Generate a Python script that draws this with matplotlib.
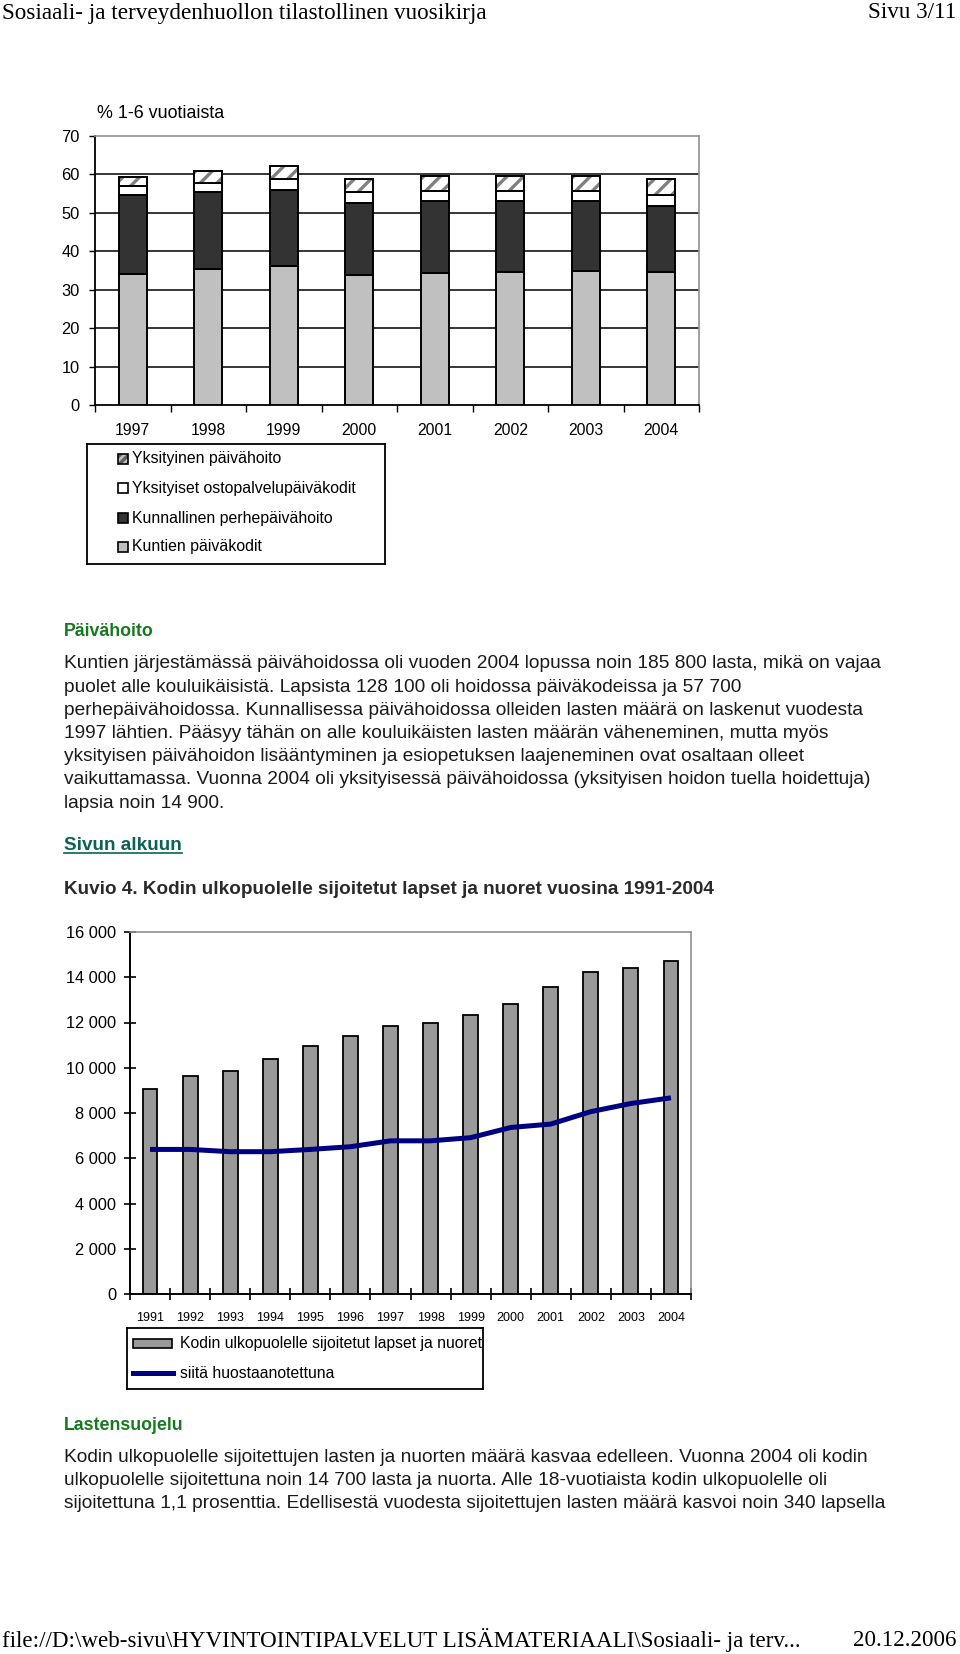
import matplotlib
matplotlib.use("Agg")
import matplotlib.pyplot as plt
import numpy as np
from matplotlib.patches import Rectangle
from matplotlib.lines import Line2D
from matplotlib.ticker import FuncFormatter

# -----------------------------
# DATA
# -----------------------------
years1 = ["1997", "1998", "1999", "2000", "2001", "2002", "2003", "2004"]
kuntien_paivakodit = [34.2, 35.3, 36.2, 33.7, 34.3, 34.6, 35.0, 34.6]
kunnallinen_perhe = [20.5, 20.2, 19.7, 18.8, 18.9, 18.4, 18.0, 17.3]
ostopalvelu = [2.3, 2.3, 2.8, 3.0, 2.5, 2.7, 2.7, 2.7]
yksityinen = [2.4, 3.2, 3.5, 3.3, 3.8, 3.8, 3.8, 4.2]

years2 = ["1991", "1992", "1993", "1994", "1995", "1996", "1997",
          "1998", "1999", "2000", "2001", "2002", "2003", "2004"]
sijoitetut = [9060, 9630, 9850, 10370, 10960, 11410, 11860,
              12000, 12310, 12830, 13560, 14210, 14400, 14740]
huostaan = [6390, 6390, 6290, 6290, 6390, 6510, 6770,
            6770, 6910, 7360, 7510, 8060, 8420, 8670]

legend1 = ["Yksityinen päivähoito", "Yksityiset ostopalvelupäiväkodit",
           "Kunnallinen perhepäivähoito", "Kuntien päiväkodit"]
legend2 = ["Kodin ulkopuolelle sijoitetut lapset ja nuoret", "siitä huostaanotettuna"]

body1 = [
    "Kuntien järjestämässä päivähoidossa oli vuoden 2004 lopussa noin 185 800 lasta, mikä on vajaa",
    "puolet alle kouluikäisistä. Lapsista 128 100 oli hoidossa päiväkodeissa ja 57 700",
    "perhepäivähoidossa. Kunnallisessa päivähoidossa olleiden lasten määrä on laskenut vuodesta",
    "1997 lähtien. Pääsyy tähän on alle kouluikäisten lasten määrän väheneminen, mutta myös",
    "yksityisen päivähoidon lisääntyminen ja esiopetuksen laajeneminen ovat osaltaan olleet",
    "vaikuttamassa. Vuonna 2004 oli yksityisessä päivähoidossa (yksityisen hoidon tuella hoidettuja)",
    "lapsia noin 14 900.",
]
body2 = [
    "Kodin ulkopuolelle sijoitettujen lasten ja nuorten määrä kasvaa edelleen. Vuonna 2004 oli kodin",
    "ulkopuolelle sijoitettuna noin 14 700 lasta ja nuorta. Alle 18-vuotiaista kodin ulkopuolelle oli",
    "sijoitettuna 1,1 prosenttia. Edellisestä vuodesta sijoitettujen lasten määrä kasvoi noin 340 lapsella",
]

# -----------------------------
# PAGE SETUP (pixel helpers)
# -----------------------------
W, H = 960, 1654
plt.rcParams["font.family"] = "Liberation Sans"
plt.rcParams["hatch.linewidth"] = 2.4
plt.rcParams["hatch.color"] = "#808080"

fig = plt.figure(figsize=(W / 100, H / 100), dpi=100)


def fx(x):
    return x / W


def fy(y):
    return 1 - y / H


def box(l, t, r, b):
    return [l / W, 1 - b / H, (r - l) / W, (b - t) / H]


serif = "Liberation Serif"
txt_col = "#1a1a1a"
green = "#16791e"
teal = "#0b6257"

# header / footer
fig.text(fx(2), fy(13), "Sosiaali- ja terveydenhuollon tilastollinen vuosikirja",
         family=serif, fontsize=16.7, va="center", ha="left")
fig.text(fx(956), fy(13), "Sivu 3/11", family=serif, fontsize=16.7, va="center", ha="right")
fig.text(fx(2), fy(1640),
         "file://D:\\web-sivu\\HYVINTOINTIPALVELUT LISÄMATERIAALI\\Sosiaali- ja terv...",
         family=serif, fontsize=16.6, va="center", ha="left")
fig.text(fx(956), fy(1640), "20.12.2006", family=serif, fontsize=16.6, va="center", ha="right")

# -----------------------------
# CHART 1: stacked bars
# -----------------------------
ax1 = fig.add_axes(box(95, 136, 699, 405))
x1 = np.arange(len(years1))
bw = 0.37
edge = dict(edgecolor="black", linewidth=1.4, zorder=3)

b0 = np.array(kuntien_paivakodit)
b1 = b0 + np.array(kunnallinen_perhe)
b2 = b1 + np.array(ostopalvelu)

ax1.bar(x1, kuntien_paivakodit, bw, color="#c0c0c0", **edge)
ax1.bar(x1, kunnallinen_perhe, bw, bottom=b0, color="#333333", **edge)
ax1.bar(x1, ostopalvelu, bw, bottom=b1, color="white", **edge)
ax1.bar(x1, yksityinen, bw, bottom=b2, color="white", edgecolor="#808080",
        hatch="//", linewidth=0, zorder=3)
ax1.bar(x1, yksityinen, bw, bottom=b2, color="none", **edge)

ax1.set_xlim(-0.5, len(years1) - 0.5)
ax1.set_ylim(0, 70)
ax1.set_yticks(range(0, 71, 10))
for v in range(10, 70, 10):
    ax1.axhline(v, color="black", linewidth=1.1, zorder=1)
ax1.set_xticks(x1)
ax1.set_xticklabels(years1)
ax1.set_xticks(np.arange(-0.5, len(years1)), minor=True)
ax1.tick_params(axis="x", which="major", length=0, pad=13, labelsize=11.3)
ax1.tick_params(axis="x", which="minor", length=5, width=1, direction="out")
ax1.tick_params(axis="y", length=4, width=1, direction="out", pad=7, labelsize=11.8)
for s in ["top", "right"]:
    ax1.spines[s].set_color("#909090")
    ax1.spines[s].set_linewidth(1.2)
for s in ["left", "bottom"]:
    ax1.spines[s].set_linewidth(1.3)
fig.text(fx(97), fy(113), "% 1-6 vuotiaista", fontsize=12.9, va="center", ha="left")

# legend 1
lg1 = fig.add_axes(box(87, 444, 385, 564))
lg1.set_xlim(0, 298)
lg1.set_ylim(120, 0)
lg1.set_xticks([])
lg1.set_yticks([])
for s in lg1.spines.values():
    s.set_linewidth(1.3)
fills = [("white", "///"), ("white", None), ("#333333", None), ("#c0c0c0", None)]
rows = [15, 44, 74, 103]
for (fc, ht), yy, lab in zip(fills, rows, legend1):
    if ht:
        lg1.add_patch(Rectangle((31, yy - 5), 10, 10, facecolor="#c0c0c0",
                                edgecolor="#606060", hatch="////", linewidth=0))
    else:
        lg1.add_patch(Rectangle((31, yy - 5), 10, 10, facecolor=fc, linewidth=0))
    lg1.add_patch(Rectangle((31, yy - 5), 10, 10, facecolor="none",
                            edgecolor="black", linewidth=1.2))
    lg1.text(45, yy, lab, fontsize=11.4, va="center", ha="left")

# -----------------------------
# TEXT BLOCK 1
# -----------------------------
fig.text(fx(64), fy(631), "Päivähoito", fontsize=12.8, weight="bold", color=green,
         va="center")
for i, line in enumerate(body1):
    fig.text(fx(64), fy(664 + i * 23.2), line, fontsize=13.8, color=txt_col, va="center")
link = fig.text(fx(64), fy(846), "Sivun alkuun", fontsize=13.6, weight="bold",
                color=teal, va="center")
fig.text(fx(64), fy(889),
         "Kuvio 4. Kodin ulkopuolelle sijoitetut lapset ja nuoret vuosina 1991-2004",
         fontsize=13.6, weight="bold", color="#2a2a2a", va="center")

# -----------------------------
# CHART 2: bars + line
# -----------------------------
ax2 = fig.add_axes(box(130, 932, 691, 1294))
x2 = np.arange(len(years2))
ax2.bar(x2, sijoitetut, 0.37, color="#999999", edgecolor="black", linewidth=1.3, zorder=2)
ax2.plot(x2, huostaan, color="#000080", linewidth=3.6, zorder=3, solid_capstyle="butt")
ax2.set_xlim(-0.5, len(years2) - 0.5)
ax2.set_ylim(0, 16000)
ax2.set_yticks(range(0, 16001, 2000))
ax2.yaxis.set_major_formatter(FuncFormatter(lambda v, p: f"{int(v):,}".replace(",", " ")))
ax2.set_xticks(x2)
ax2.set_xticklabels(years2)
ax2.set_xticks(np.arange(-0.5, len(years2)), minor=True)
ax2.tick_params(axis="x", which="major", length=0, pad=13, labelsize=9)
ax2.tick_params(axis="x", which="minor", length=8, width=1.2, direction="inout")
ax2.tick_params(axis="y", length=8, width=1.2, direction="inout", pad=6, labelsize=11.8)
for s in ["top", "right"]:
    ax2.spines[s].set_color("#909090")
    ax2.spines[s].set_linewidth(1.2)
for s in ["left", "bottom"]:
    ax2.spines[s].set_linewidth(1.4)

# legend 2
lg2 = fig.add_axes(box(127, 1328, 483, 1389))
lg2.set_xlim(0, 356)
lg2.set_ylim(61, 0)
lg2.set_xticks([])
lg2.set_yticks([])
for s in lg2.spines.values():
    s.set_linewidth(1.3)
lg2.add_patch(Rectangle((6, 11), 39, 9, facecolor="#999999", edgecolor="black", linewidth=1.2))
lg2.add_line(Line2D([6, 46], [45, 45], color="#000080", linewidth=3.6))
lg2.text(53, 15.5, legend2[0], fontsize=11.3, va="center", ha="left")
lg2.text(53, 45, legend2[1], fontsize=11.3, va="center", ha="left")

# -----------------------------
# TEXT BLOCK 2
# -----------------------------
fig.text(fx(64), fy(1426), "Lastensuojelu", fontsize=12.8, weight="bold", color=green,
         va="center")
for i, line in enumerate(body2):
    fig.text(fx(64), fy(1457 + i * 23.2), line, fontsize=13.8, color=txt_col, va="center")

# underline for link
fig.canvas.draw()
bb = link.get_window_extent()
fig.add_artist(Line2D([bb.x0 / W, bb.x1 / W], [(bb.y0 + 1) / H, (bb.y0 + 1) / H],
                      color=teal, linewidth=1.2))

fig.savefig("out.png", dpi=100)
